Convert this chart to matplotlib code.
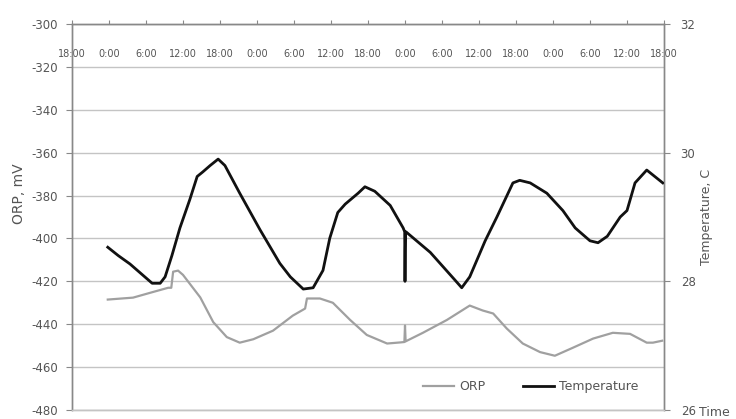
import matplotlib
matplotlib.use('Agg')
import matplotlib.pyplot as plt
from matplotlib.lines import Line2D

plt.rcParams['font.family'] = ['DejaVu Sans']

# ---- data ----
time_labels = ['18:00', '0:00', '6:00', '12:00', '18:00', '0:00', '6:00', '12:00',
               '18:00', '0:00', '6:00', '12:00', '18:00', '0:00', '6:00', '12:00', '18:00']
time_ticks_h = [0, 6, 12, 18, 24, 30, 36, 42, 48, 54, 60, 66, 72, 78, 84, 90, 96]

orp_hours = [5.8, 9.9, 13.1, 15.6, 16.1, 16.4, 17.2, 18.0, 20.8, 22.9, 25.1, 27.2,
             29.4, 32.6, 35.8, 37.8, 38.1, 40.2, 42.3, 45.1, 47.8, 51.1, 53.2,
             53.9, 54.0, 54.1, 56.9, 60.8, 64.5, 66.6, 68.3, 70.5, 73.1, 75.9,
             78.3, 81.2, 84.5, 87.7, 90.5, 93.2, 94.2, 95.7]
orp_mv = [-428.5, -427.6, -425.0, -423.0, -423.0, -415.5, -415.0, -417.0, -427.5,
          -439.0, -446.0, -448.6, -447.0, -443.0, -436.0, -432.7, -428.0, -428.0,
          -430.0, -438.0, -445.0, -449.0, -448.5, -448.3, -440.6, -448.0, -444.0,
          -438.0, -431.3, -433.6, -435.0, -442.0, -449.0, -453.0, -454.7, -451.0,
          -446.7, -444.0, -444.5, -448.6, -448.6, -447.7]

temp_hours = [5.8, 7.5, 9.4, 11.8, 13.0, 14.3, 15.1, 16.2, 17.5, 19.1, 20.3, 21.2,
              22.4, 23.7, 24.8, 27.2, 30.5, 33.7, 35.4, 37.5, 39.1, 40.7, 41.8,
              43.1, 44.3, 46.4, 47.5, 49.1, 51.6, 53.7, 53.95, 54.0, 54.05, 54.1,
              54.15, 58.1, 62.1, 63.2, 64.5, 67.0, 68.9, 71.5, 72.6, 74.3, 77.0,
              79.6, 81.6, 84.0, 85.3, 86.8, 88.9, 90.0, 91.3, 93.2, 95.8]
temp_c = [28.53, 28.40, 28.27, 28.07, 27.97, 27.97, 28.07, 28.40, 28.83, 29.27,
          29.63, 29.70, 29.80, 29.90, 29.80, 29.37, 28.80, 28.28, 28.07, 27.88,
          27.90, 28.17, 28.67, 29.07, 29.20, 29.37, 29.47, 29.40, 29.18, 28.83,
          28.77, 28.00, 28.50, 28.77, 28.77, 28.45, 28.02, 27.90, 28.07, 28.63,
          29.00, 29.53, 29.57, 29.53, 29.37, 29.10, 28.83, 28.63, 28.60, 28.70,
          29.00, 29.10, 29.53, 29.73, 29.53]

orp_ticks = [-480, -460, -440, -420, -400, -380, -360, -340, -320, -300]
temp_ticks = [26, 28, 30, 32]

# ---- figure ----
W, H = 736, 419
fig = plt.figure(figsize=(W / 100, H / 100), dpi=100)
ax = fig.add_axes([72 / W, 9 / H, 592 / W, 386 / H])
ax2 = ax.twinx()

txt = '#555555'
spine_c = '#888888'
grid_c = '#c4c4c4'

ax.plot(orp_hours, orp_mv, color='#a0a0a0', lw=1.6, zorder=3)
ax2.plot(temp_hours, temp_c, color='#111111', lw=2.0, zorder=3)

ax.set_xlim(0, 96)
ax.set_ylim(-480, -300)
ax2.set_ylim(26, 32)

ax.set_yticks(orp_ticks)
ax.set_yticklabels([str(v) for v in orp_ticks])
ax2.set_yticks(temp_ticks)
ax2.set_yticklabels([str(v) for v in temp_ticks])

ax.xaxis.tick_top()
ax.set_xticks(time_ticks_h)
ax.set_xticklabels(time_labels)
ax.tick_params(axis='x', direction='out', length=3, width=0.8, color=spine_c,
               pad=-28, labelsize=7, labelcolor=txt)
ax.tick_params(axis='y', direction='out', length=4, width=0.8, color=spine_c,
               pad=6, labelsize=8.5, labelcolor=txt)
ax2.tick_params(axis='y', direction='out', length=4, width=0.8, color=spine_c,
                pad=8, labelsize=8.5, labelcolor=txt)

ax.yaxis.grid(True, color=grid_c, lw=1.0)
ax.set_axisbelow(True)

for a in (ax, ax2):
    a.spines['left'].set_color(spine_c)
    a.spines['right'].set_color(spine_c)
    a.spines['top'].set_color(spine_c)
    a.spines['bottom'].set_color(grid_c)
    for s in a.spines.values():
        s.set_linewidth(1.0)

ax.set_ylabel('ORP, mV', fontsize=10, color=txt)
ax.yaxis.set_label_coords(-0.078, 0.56)
ax2.set_ylabel('Temperature, C', fontsize=9, color=txt)
ax2.yaxis.set_label_coords(1.061, 0.5)

fig.text(699 / W, 1 - 412 / H, 'Time', ha='left', va='center', fontsize=9, color=txt)

handles = [Line2D([], [], color='#a0a0a0', lw=1.6, label='ORP'),
           Line2D([], [], color='#111111', lw=2.0, label='Temperature')]
ax2.legend(handles=handles, loc='center', bbox_to_anchor=(0.775, 0.06), ncol=2,
           frameon=False, fontsize=9, handlelength=2.5, columnspacing=3.0,
           handletextpad=0.4, labelcolor=txt)

fig.savefig('out.png', dpi=100)
